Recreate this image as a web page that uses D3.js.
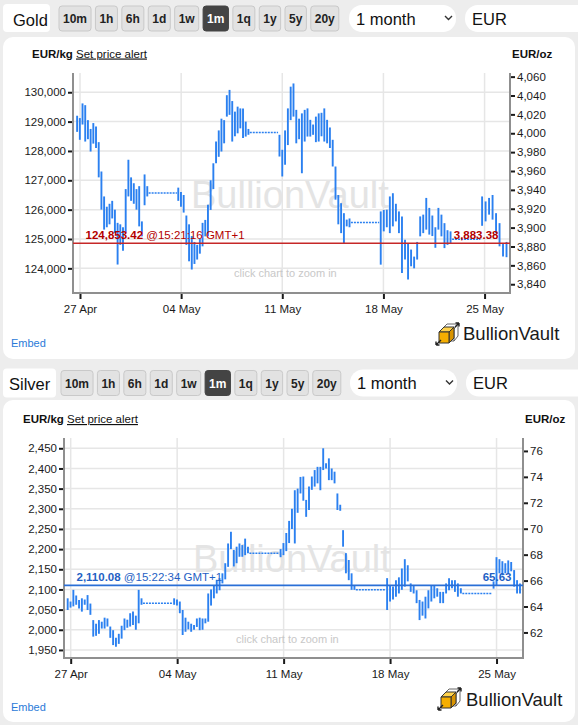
<!DOCTYPE html>
<html><head><meta charset="utf-8">
<script src="https://cdn.jsdelivr.net/npm/d3@7"></script>
<style>
html,body{margin:0;padding:0;background:#ededed;}
svg{display:block;font-family:"Liberation Sans",Arial,sans-serif;}
</style></head><body>
<svg id="c" width="578" height="725"></svg>
<script>
// ---------------- DATA ----------------
const OZ_PER_KG = 32.1507466;
const timeButtons = ["10m","1h","6h","1d","1w","1m","1q","1y","5y","20y"];
const activeButton = "1m";
const rangeLabel = "1 month";
const currencyLabel = "EUR";
const sessionStart = ["2026-04-26T17:00","2026-05-03T17:00","2026-05-10T17:00","2026-05-17T17:00","2026-05-24T17:00"];
const sessionEnd   = ["2026-05-01T18:00","2026-05-08T18:00","2026-05-15T18:00","2026-05-22T18:00","2026-05-26T15:21"];
const dateTicks = ["2026-04-27","2026-05-04","2026-05-11","2026-05-18","2026-05-25"];

const goldKgTicks = [124000,125000,126000,127000,128000,129000,130000];
const goldOzTicks = [3840,3860,3880,3900,3920,3940,3960,3980,4000,4020,4040,4060];
const silverKgTicks = [1950,2000,2050,2100,2150,2200,2250,2300,2350,2400,2450];
const silverOzTicks = [62,64,66,68,70,72,74,76];

const goldHigh = [
 [129200,129120,129620,129560,129050,128750,128950,128830,128300,127300,126450,126100,126200,126300,126000,125550,125500,125400,126700,127700,127100,126900,126700,126800,125600,127200,126800],
 [126750,126600,126500,125800,125500,125100,124900,124800,125000,125550,125650,126170,127000,127580,128320,128700,129100,129050,129900,130080,129700,129340,129510,129450,129450,129000,128750],
 [128550,128040,128700,129450,130190,130300,129400,129100,129280,129400,129450,129060,128900,129170,129280,129300,129450,129060,128800,128380,127470,126500,126220,125880,125660,125700],
 [125940,125990,126000,126450,126560,126200,125940,125770,124976,124863,124640,124400,124900,125770,125830,126400,126060,125800,125400,126060,125830,125540,125300,125260],
 [126450,126280,126400,126500,125880,125540,124860,124900]
];
const goldLow = [
 [128650,128380,128900,128320,128400,127980,128250,128100,127100,126000,125320,125400,125500,125700,125200,124130,124800,124600,125200,126450,126300,126200,126000,125430,125090,126150,126450],
 [126300,126100,125900,124800,124240,123960,124150,124300,124500,124750,125090,125090,125990,126700,127580,127800,127980,128260,129170,129230,128320,128500,128600,128770,128440,128490,128550],
 [127810,127130,127530,128200,129050,129170,128260,128400,127240,128320,128490,128490,128550,128300,128320,128500,128320,128260,128100,127470,126340,125500,125200,124860,125430,125400],
 [124126,125260,125400,125200,125430,125600,125200,123843,124300,123616,124070,124000,124300,125090,125200,125320,125150,125100,124700,125320,125090,124690,124800,124860],
 [125450,125600,125830,125660,125200,124750,124400,124380]
];
const goldWeekendClose = [126565,128627,125566,124990];
const goldLast = 124853.42;
const goldLastTime = "@15:21:16 GMT+1";

const silverHigh = [
 [2078,2070,2099,2085,2074,2078,2075,2086,2065,2024,2015,2024,2020,2030,2028,2008,1999,1980,1990,2010,2028,2025,2041,2045,2035,2099,2078],
 [2078,2075,2070,2049,2030,2020,2015,2012,2028,2030,2028,2028,2090,2100,2110,2124,2128,2140,2165,2214,2243,2198,2206,2214,2210,2226,2206],
 [2200,2215,2240,2270,2300,2346,2350,2379,2380,2322,2355,2380,2396,2404,2404,2450,2413,2425,2400,2392,2338,2310,2247,2190,2173,2140,2111],
 [2128,2110,2107,2123,2130,2152,2175,2160,2115,2111,2098,2074,2070,2082,2098,2111,2111,2103,2094,2094,2115,2128,2123,2123,2115,2103],
 [2120,2180,2175,2170,2165,2172,2168,2148,2123,2115]
];
const silverLow = [
 [2049,2055,2058,2062,2053,2045,2062,2049,2037,1983,1985,1990,2003,2003,2008,1980,1962,1958,1965,1978,1999,2005,2008,2012,2000,2016,2062],
 [2062,2060,2041,1987,1995,2001,1995,2000,2007,1999,2000,2016,2020,2060,2078,2090,2098,2115,2125,2156,2200,2157,2165,2181,2181,2185,2190],
 [2180,2185,2195,2215,2250,2214,2290,2338,2320,2280,2297,2347,2355,2363,2346,2396,2400,2371,2371,2363,2297,2295,2206,2140,2123,2099,2099],
 [2049,2070,2075,2082,2090,2099,2107,2120,2094,2090,2066,2024,2035,2028,2053,2070,2078,2082,2066,2066,2090,2098,2103,2094,2082,2090],
 [2102,2110,2140,2135,2140,2140,2145,2107,2090,2090]
];
const silverWeekendClose = [2066,2190,2099,2090];
const silverLast = 2110.08;
const silverLastTime = "@15:22:34 GMT+1";

// ---------------- DRAW ----------------
const svg = d3.select("#c");
const parseT = d3.timeParse("%Y-%m-%dT%H:%M");
const parseD = d3.timeParse("%Y-%m-%d");
const starts = sessionStart.map(parseT), ends = sessionEnd.map(parseT);
const fmtComma = d3.format(",");
const fmtPrice = d3.format(",.2f");
const BAR = "#2b80f0";

const charts = [
 {name:"Gold", tbY:6, lblBox:[3,4,47,28], nameX:13, nameY:25.5, btnX:59, ddX:349, eurX:465,
  panelY:37, panelH:322, x0:73, x1:510, y0:73, y1:293, kgDomain:[123160,130656],
  tDomain:[new Date(2026,3,26,12,23), new Date(2026,4,26,18,14)],
  high:goldHigh, low:goldLow, weekend:goldWeekendClose, last:goldLast, lastTime:goldLastTime,
  kgTicks:goldKgTicks, ozTicks:goldOzTicks,
  lineColor:"#c62828", labelColor:"#b30000",
  unitY:57.5, kgX:32, alertX:76, ozX:512, wmX:191, wmY:208, clickX:234, clickY:277, embedY:347,
  logoX:436, logoY:323, logoTextX:463, logoTextY:340},
 {name:"Silver", tbY:370.5, lblBox:[3,368.5,53,29], nameX:9, nameY:390, btnX:61, ddX:350, eurX:466,
  panelY:400, panelH:322, x0:64, x1:523, y0:438, y1:658, kgDomain:[1930,2475.5],
  tDomain:[new Date(2026,3,26,13,26), new Date(2026,4,26,17,46)],
  high:silverHigh, low:silverLow, weekend:silverWeekendClose, last:silverLast, lastTime:silverLastTime,
  kgTicks:silverKgTicks, ozTicks:silverOzTicks,
  lineColor:"#2a6fd6", labelColor:"#1f5fc4",
  unitY:423, kgX:23, alertX:67, ozX:525, wmX:193, wmY:572, clickX:236, clickY:642.5, embedY:711,
  logoX:438, logoY:688, logoTextX:466, logoTextY:705.5}
];

function drawLogo(g, x, y){
  const l = g.append("g").attr("transform",`translate(${x},${y})`);
  l.append("path").attr("d","M6,6 L6,18 L18,18 L18,6 Z M6,6 L11,1 L22,1 L22,13 L18,18 M18,6 L22,1")
    .attr("fill","none").attr("stroke","#555").attr("stroke-width",0.9);
  l.append("path").attr("d","M3,9 L8,4 L18,4 L13,9 Z").attr("fill","#ffd34d").attr("stroke","#333").attr("stroke-width",1);
  l.append("path").attr("d","M13,9 L18,4 L18,15 L13,20 Z").attr("fill","#d99400").attr("stroke","#333").attr("stroke-width",1);
  l.append("path").attr("d","M3,9 L13,9 L13,20 L3,20 Z").attr("fill","#f5ae00").attr("stroke","#333").attr("stroke-width",1);
  l.append("path").attr("d","M0,22 L5,17 M0,22 L0,18.5 M0,22 L3.5,22").attr("stroke","#222").attr("stroke-width",1.4).attr("fill","none");
  l.append("path").attr("d","M23,0 L19,4 M23,0 L23,3.5 M23,0 L19.5,0").attr("stroke","#222").attr("stroke-width",1.4).attr("fill","none");
}

charts.forEach(c => {
  const g = svg.append("g");
  // ---- toolbar ----
  g.append("rect").attr("x",c.lblBox[0]).attr("y",c.lblBox[1]).attr("width",c.lblBox[2]).attr("height",c.lblBox[3])
    .attr("rx",4).attr("fill","#fff");
  g.append("text").attr("x",c.nameX).attr("y",c.nameY).attr("font-size",16.5).attr("fill","#111").text(c.name);
  let bx = c.btnX;
  timeButtons.forEach(b => {
    const active = b === activeButton;
    const bg = g.append("rect").attr("y",c.tbY).attr("height",25).attr("rx",3)
      .attr("fill", active ? "#444" : "#e2e2e2").attr("stroke", active ? "#444" : "#c9c9c9").attr("stroke-width",1);
    const t = g.append("text").attr("y",c.tbY+17).attr("font-size",12).attr("font-weight","bold")
      .attr("fill", active ? "#fff" : "#222").text(b);
    const w = t.node().getComputedTextLength() + 8;
    bg.attr("x",bx).attr("width",w);
    t.attr("x",bx + w/2).attr("text-anchor","middle");
    bx += w + 4.4;
  });
  g.append("rect").attr("x",c.ddX).attr("y",c.tbY-1).attr("width",107).attr("height",27).attr("rx",13).attr("fill","#fff");
  g.append("text").attr("x",c.ddX+7).attr("y",c.tbY+18.5).attr("font-size",16.5).attr("fill","#111").text(rangeLabel);
  g.append("path").attr("d",`M${c.ddX+96},${c.tbY+10} l3.5,3.5 l3.5,-3.5`).attr("fill","none").attr("stroke","#333").attr("stroke-width",1.4);
  g.append("rect").attr("x",c.eurX).attr("y",c.tbY-1).attr("width",130).attr("height",27).attr("rx",13).attr("fill","#fff");
  g.append("text").attr("x",c.eurX+7).attr("y",c.tbY+18.5).attr("font-size",16.5).attr("fill","#111").text(currencyLabel);

  // ---- panel ----
  g.append("rect").attr("x",3).attr("y",c.panelY).attr("width",572).attr("height",c.panelH).attr("rx",10).attr("fill","#fff");

  // ---- scales ----
  const x = d3.scaleTime().domain(c.tDomain).range([c.x0,c.x1]);
  const y = d3.scaleLinear().domain(c.kgDomain).range([c.y1,c.y0]);
  const yOz = d3.scaleLinear().domain(c.kgDomain.map(v => v/OZ_PER_KG)).range([c.y1,c.y0]);
  const ticksT = dateTicks.map(parseD);

  // grid
  g.append("g").selectAll("line").data(c.kgTicks).join("line")
    .attr("x1",c.x0).attr("x2",c.x1).attr("y1",d=>y(d)).attr("y2",d=>y(d))
    .attr("stroke","#e6e6e6").attr("stroke-width",1.5);
  g.append("g").selectAll("line").data(ticksT).join("line")
    .attr("x1",d=>x(d)).attr("x2",d=>x(d)).attr("y1",c.y0).attr("y2",c.y1)
    .attr("stroke","#e6e6e6").attr("stroke-width",1.5);

  // watermark
  g.append("text").attr("x",c.wmX).attr("y",c.wmY).attr("font-size",38).attr("fill","#e4e4e4").text("BullionVault");
  g.append("text").attr("x",c.clickX).attr("y",c.clickY).attr("font-size",11).attr("fill","#c8c8c8").text("click chart to zoom in");

  // bars
  const bars = [];
  c.high.forEach((wk, i) => {
    const s = starts[i].getTime(), e = ends[i].getTime(), n = wk.length;
    wk.forEach((h, k) => bars.push({t:new Date(s + (k+0.5)/n*(e-s)), h, l:c.low[i][k]}));
  });
  g.append("g").selectAll("line").data(bars).join("line")
    .attr("x1",d=>x(d.t)).attr("x2",d=>x(d.t)).attr("y1",d=>y(d.h)).attr("y2",d=>y(d.l))
    .attr("stroke",BAR).attr("stroke-width",1.9);
  // weekend dotted lines
  g.append("g").selectAll("line").data(c.weekend).join("line")
    .attr("x1",(d,i)=>x(ends[i])).attr("x2",(d,i)=>x(starts[i+1]))
    .attr("y1",d=>y(d)).attr("y2",d=>y(d))
    .attr("stroke",BAR).attr("stroke-width",1.5).attr("stroke-dasharray","2,1");

  // axes
  const ax = g.append("g").attr("transform",`translate(${c.x0},0)`)
    .call(d3.axisLeft(y).tickValues(c.kgTicks).tickFormat(fmtComma).tickSize(5).tickPadding(2));
  const axR = g.append("g").attr("transform",`translate(${c.x1},0)`)
    .call(d3.axisRight(yOz).tickValues(c.ozTicks).tickFormat(fmtComma).tickSize(5).tickPadding(2));
  const axB = g.append("g").attr("transform",`translate(0,${c.y1})`)
    .call(d3.axisBottom(x).tickValues(ticksT).tickFormat(d3.timeFormat("%d %b")).tickSize(6).tickPadding(6));
  [ax,axR,axB].forEach(a => {
    a.select(".domain").remove();
    a.selectAll(".tick line").attr("stroke","#1a1a1a").attr("stroke-width",2);
    a.selectAll(".tick text").attr("font-size",11.5).attr("fill","#1a1a1a").attr("font-family","Liberation Sans, Arial, sans-serif");
  });
  g.append("path").attr("d",`M${c.x0},${c.y0} V${c.y1} H${c.x1} V${c.y0}`)
    .attr("fill","none").attr("stroke","#8f8f8f").attr("stroke-width",2);

  // current price line
  const ly = y(c.last);
  g.append("line").attr("x1",c.x0).attr("x2",c.x1).attr("y1",ly).attr("y2",ly)
    .attr("stroke",c.lineColor).attr("stroke-width",1.6);
  const lt = g.append("text").attr("x",c.x0+12.5).attr("y",ly-4).attr("font-size",11.5).attr("fill",c.labelColor);
  lt.append("tspan").attr("font-weight","bold").text(fmtPrice(c.last));
  lt.append("tspan").text(" " + c.lastTime);
  g.append("text").attr("x",c.x1-11.5).attr("y",ly-4).attr("text-anchor","end").attr("font-size",11.5)
    .attr("font-weight","bold").attr("fill",c.labelColor).text(fmtPrice(c.last/OZ_PER_KG));

  // unit labels
  g.append("text").attr("x",c.kgX).attr("y",c.unitY).attr("font-size",11.5).attr("font-weight","bold").attr("fill","#111").text("EUR/kg");
  g.append("text").attr("x",c.alertX).attr("y",c.unitY).attr("font-size",11.5).attr("fill","#111")
    .attr("text-decoration","underline").text("Set price alert");
  g.append("text").attr("x",c.ozX).attr("y",c.unitY).attr("font-size",11.5).attr("font-weight","bold").attr("fill","#111").text("EUR/oz");

  // footer
  g.append("text").attr("x",11).attr("y",c.embedY).attr("font-size",11).attr("fill","#2a7ad8").text("Embed");
  drawLogo(g, c.logoX, c.logoY);
  g.append("text").attr("x",c.logoTextX).attr("y",c.logoTextY).attr("font-size",18.5).attr("fill","#1a1a1a").text("BullionVault");
});
</script>
</body></html>
